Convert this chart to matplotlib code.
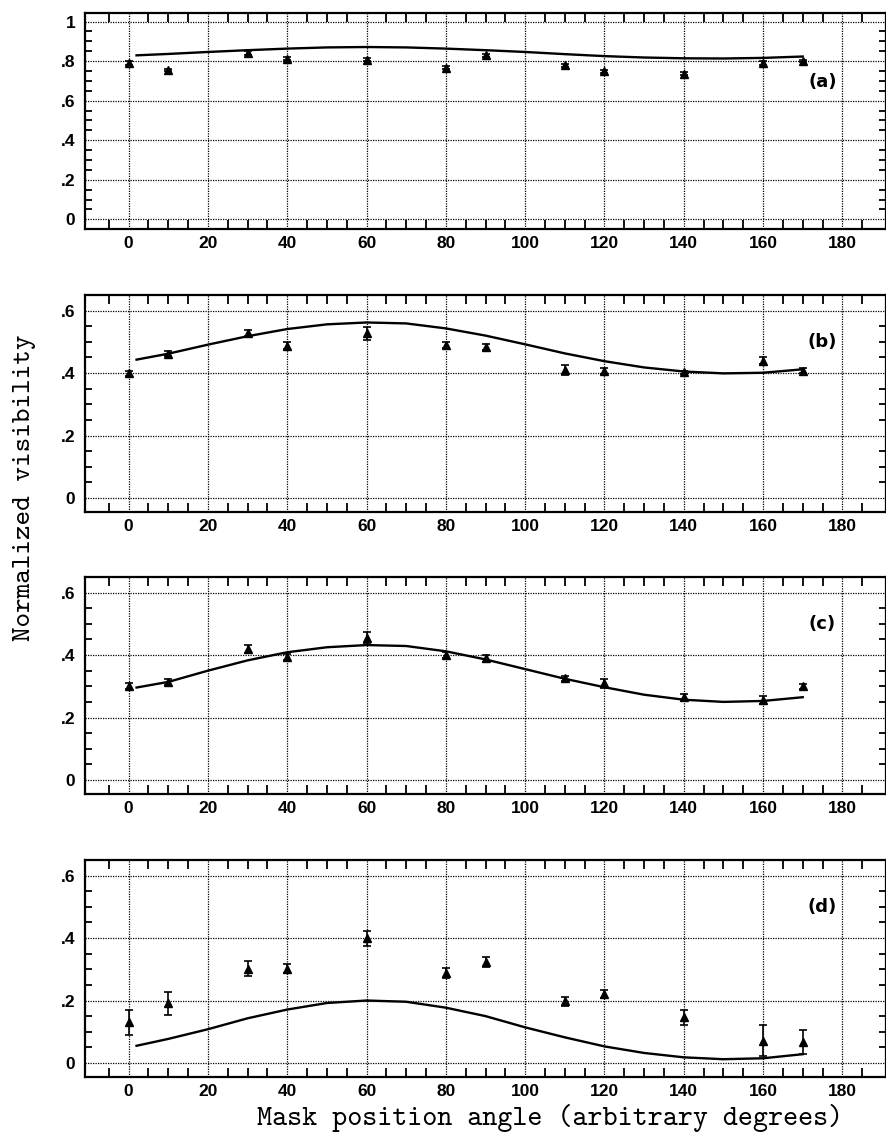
import matplotlib
matplotlib.use("Agg")
import matplotlib.pyplot as plt
from matplotlib.ticker import MultipleLocator, FixedLocator, FuncFormatter


# mask position angles of the measured points
angles = [0, 10, 30, 40, 60, 80, 90, 110, 120, 140, 160, 170]

vis_a = [0.790, 0.756, 0.840, 0.812, 0.807, 0.766, 0.829, 0.778, 0.749, 0.736, 0.790, 0.800]
err_a = [0.008, 0.006, 0.010, 0.008, 0.008, 0.008, 0.008, 0.008, 0.008, 0.008, 0.008, 0.006]

vis_b = [0.400, 0.462, 0.529, 0.488, 0.527, 0.491, 0.483, 0.411, 0.407, 0.402, 0.440, 0.407]
err_b = [0.008, 0.008, 0.010, 0.010, 0.020, 0.010, 0.010, 0.016, 0.010, 0.006, 0.012, 0.008]

vis_c = [0.300, 0.314, 0.419, 0.393, 0.456, 0.400, 0.389, 0.325, 0.309, 0.266, 0.256, 0.300]
err_c = [0.010, 0.010, 0.013, 0.010, 0.018, 0.010, 0.010, 0.007, 0.015, 0.010, 0.012, 0.008]

vis_d = [0.130, 0.191, 0.302, 0.302, 0.400, 0.288, 0.323, 0.197, 0.221, 0.146, 0.071, 0.068]
err_d = [0.040, 0.037, 0.023, 0.015, 0.024, 0.016, 0.017, 0.014, 0.013, 0.025, 0.049, 0.038]

# model curves
fit_x = [2, 10, 20, 30, 40, 50, 60, 70, 80, 90, 100, 110, 120, 130, 140, 150, 160, 170]
fit_a = [0.829, 0.836, 0.846, 0.855, 0.863, 0.869, 0.871, 0.869, 0.863, 0.855,
         0.846, 0.835, 0.825, 0.818, 0.814, 0.813, 0.816, 0.823]
fit_b = [0.443, 0.462, 0.491, 0.518, 0.541, 0.556, 0.562, 0.559, 0.543, 0.520,
         0.492, 0.463, 0.438, 0.418, 0.405, 0.399, 0.401, 0.412]
fit_c = [0.296, 0.314, 0.350, 0.383, 0.409, 0.425, 0.432, 0.429, 0.412, 0.386,
         0.355, 0.324, 0.297, 0.273, 0.257, 0.250, 0.253, 0.265]
fit_d = [0.055, 0.077, 0.108, 0.143, 0.171, 0.192, 0.200, 0.196, 0.177, 0.150,
         0.114, 0.082, 0.053, 0.032, 0.018, 0.012, 0.015, 0.028]

panel_labels = ["(a)", "(b)", "(c)", "(d)"]
x_ticks = [0, 20, 40, 60, 80, 100, 120, 140, 160, 180]


def ylab(v, pos):
	if abs(v) < 1e-9:
		return "0"
	if abs(v - 1) < 1e-9:
		return "1"
	return ("%.1f" % v).lstrip("0")


W, H = 886., 1137.
fig = plt.figure(figsize=(W / 100, H / 100), dpi=100)

# (top, bottom) of each panel in pixels
boxes = [(13, 229), (295, 512), (577, 794), (860, 1077)]
series = [(vis_a, err_a, fit_a), (vis_b, err_b, fit_b), (vis_c, err_c, fit_c), (vis_d, err_d, fit_d)]

for i, ((top, bot), (vis, err, fit)) in enumerate(zip(boxes, series)):
	ax = fig.add_axes([85 / W, 1 - bot / H, 801 / W, (bot - top) / H])
	ax.set_xlim(-11, 191)
	if i == 0:
		ax.set_ylim(-0.049, 1.043)
		ax.yaxis.set_major_locator(MultipleLocator(0.2))
	else:
		ax.set_ylim(-0.045, 0.65)
		ax.yaxis.set_major_locator(FixedLocator([0, 0.2, 0.4, 0.6]))
	ax.yaxis.set_minor_locator(MultipleLocator(0.05))
	ax.xaxis.set_major_locator(FixedLocator(x_ticks))
	ax.xaxis.set_minor_locator(FixedLocator(list(range(-5, 190, 5))))
	ax.yaxis.set_major_formatter(FuncFormatter(ylab))

	ax.grid(True, which="major", color="k", linestyle=(0, (1, 1)), linewidth=0.9)
	ax.tick_params(which="both", direction="in", top=True, right=True, width=1.3, color="k")
	ax.tick_params(which="major", length=0)
	ax.tick_params(which="minor", length=6.5)
	ax.tick_params(axis="y", which="minor", length=5)
	ax.tick_params(axis="x", pad=5)
	ax.tick_params(axis="y", pad=7)
	for lab in ax.get_xticklabels() + ax.get_yticklabels():
		lab.set_fontfamily("Liberation Sans")
		lab.set_fontweight("bold")
		lab.set_fontsize(12.5)
	for sp in ax.spines.values():
		sp.set_linewidth(1.6)

	ax.plot(fit_x, fit, color="k", linewidth=1.7, zorder=3)
	ax.errorbar(angles, vis, yerr=err, fmt="^", color="k", markersize=5.5,
		elinewidth=1.2, capsize=3, capthick=1.2, zorder=4)

	ty = 0.693 if i == 0 else 0.50
	ax.text(175, ty, panel_labels[i], ha="center", va="center",
		fontfamily="Liberation Sans Narrow", fontweight="bold", fontsize=13)

fig.text(25 / W, 1 - 488 / H, "Normalized visibility", rotation=90,
	ha="center", va="center", fontfamily="cmtt10", fontsize=20)
fig.text(550 / W, 1 - 1118 / H, "Mask position angle (arbitrary degrees)",
	ha="center", va="center", fontfamily="cmtt10", fontsize=20.6)

fig.savefig("out.png", dpi=100)
